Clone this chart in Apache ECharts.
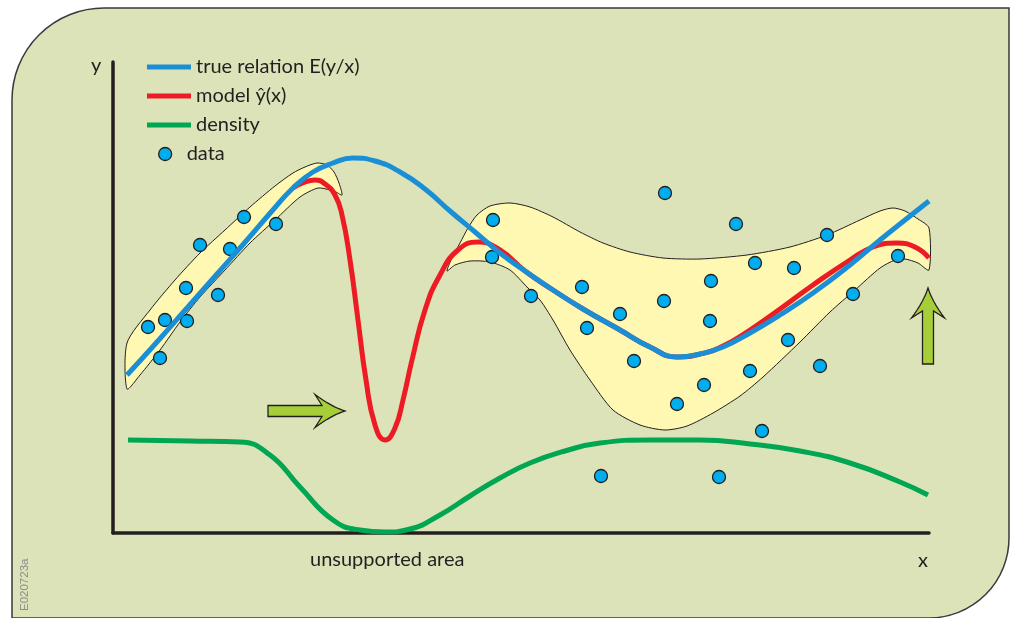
<!DOCTYPE html>
<html><head><meta charset="utf-8">
<script src="https://cdn.jsdelivr.net/npm/echarts@6/dist/echarts.min.js"></script>
<style>html,body{margin:0;padding:0;background:#fff}#c{width:1011px;height:618px}</style>
</head><body><div id="c"></div>
<script>
// Values in chart units: x from axis origin (0..816), y upward from x-axis (0..471)
const seriesNames = ['true relation E(y/x)', 'model \u0177(x)', 'density', 'data'];

const trueRelation = [[14,158],[44,191],[74,225],[104,259],[134,293],[159,322],[180,345],[200,361],[220,370],[240,375],[262,372],[287,361],[312,344],[337,322],[362,301],[387,280],[412,262],[440,243],[470,224],[507,203],[537,186],[564,176],[587,179],[610,186],[637,200],[667,218],[700,240],[737,268],[767,293],[792,313],[816,332]];

const modelFit = [[180,345],[192,351],[202,353],[212,349],[222,338],[229,318],[237,273],[245,213],[253,153],[262,108],[272,93],[282,105],[290,133],[299,173],[312,223],[327,258],[345,283],[365,291],[387,283],[412,262],[440,243],[470,224],[507,203],[537,186],[564,176],[587,179],[610,187],[637,203],[667,224],[700,248],[737,273],[760,286],[784,290],[802,286],[816,275]];

const density = [[15,93],[77,92],[127,91],[157,78],[187,46],[220,13],[247,3],[272,1],[297,4],[327,18],[357,37],[387,55],[417,70],[452,82],[487,90],[537,93],[587,93],[637,89],[687,82],[737,70],[787,51],[815,38]];

const observations = [[35,206],[52,213],[74,212],[47,175],[73,245],[105,238],[87,288],[117,284],[131,316],[163,309],
  [380,313],[379,276],[418,237],[469,246],[474,205],[507,219],[521,172],[552,340],[551,232],[564,129],[591,148],[598,252],[597,212],[623,309],[642,270],[681,265],[714,298],[785,277],[740,239],[675,193],[637,162],[707,167],[649,102],[488,57],[606,56]];

// confidence bands: outline points (upper edge then lower edge back)
const leftBandUpper = [[14,144],[14,190],[37,223],[62,253],[87,280],[112,303],[137,326],[162,347],[180,360],[192,366],[204,370],[214,368],[221,361],[226,350],[229,338]];
const leftBandLower = [[223,341],[217,343],[205,345],[187,336],[162,313],[137,290],[112,263],[87,236],[67,211],[47,183],[27,158]];

const rightBandUpper = [[334,262],[339,275],[347,290],[355,305],[364,318],[377,327],[397,330],[417,326],[440,316],[467,301],[490,290],[517,281],[550,275],[587,274],[634,278],[677,286],[714,298],[747,313],[767,322],[780,325],[792,322],[805,314],[816,305]];
const rightBandLower = [[816,263],[805,270],[792,274],[782,273],[767,265],[742,243],[717,221],[687,191],[650,156],[627,137],[600,120],[574,107],[552,103],[527,108],[500,123],[477,153],[457,183],[440,213],[427,233],[414,246],[397,263],[377,271],[357,272],[342,268]];

// arrows: [fromX, fromY, toX, toY]
const arrows = [[155,122,232,122],[815,169,815,245]];

const C_TEXT = '#231f20';
const chart = echarts.init(document.getElementById('c'), null, {renderer:'canvas'});

function bandSeries(upper, lower) {
  const pts = upper.concat(lower);
  return {
    type: 'custom', z: 1, clip: false, silent: true,
    data: pts,
    renderItem: function (params, api) {
      if (params.dataIndex !== 0) return null;
      const p = pts.map(d => api.coord(d));
      return {type:'polygon', shape:{points:p, smooth:0.25},
        style:{fill:'#fff8b3', stroke:'#231f20', lineWidth:1}};
    }
  };
}

function bez(p0, c, p1, n) {
  const out = [];
  for (let i = 1; i <= n; i++) {
    const t = i / n, a = (1-t)*(1-t), b = 2*(1-t)*t, e = t*t;
    out.push([a*p0[0]+b*c[0]+e*p1[0], a*p0[1]+b*c[1]+e*p1[1]]);
  }
  return out;
}

const arrowSeries = {
  type:'custom', z: 6, clip:false, silent:true,
  data: arrows,
  renderItem: function (params, api) {
    const s = api.coord([api.value(0), api.value(1)]);
    const e = api.coord([api.value(2), api.value(3)]);
    const dx = e[0]-s[0], dy = e[1]-s[1], L = Math.sqrt(dx*dx+dy*dy);
    const ux = dx/L, uy = dy/L, nx = -uy, ny = ux;
    const h = 5.5, hw = 16.5, hl = 30, j = 23;
    let loc = [[-L,-h],[-j,-h],[-hl,-hw]];
    loc = loc.concat(bez([-hl,-hw],[-13,-4],[0,0],8));
    loc = loc.concat(bez([0,0],[-13,4],[-hl,hw],8));
    loc.push([-j,h]); loc.push([-L,h]);
    const pts = loc.map(q => [e[0]+q[0]*ux+q[1]*nx, e[1]+q[0]*uy+q[1]*ny]);
    return {type:'polygon', shape:{points:pts}, style:{fill:'#a6ce39', stroke:'#231f20', lineWidth:1.3}};
  }
};

const option = {
  animation: false,
  backgroundColor: '#ffffff',
  graphic: [
    {type:'rect', z:-100, shape:{x:12, y:8, width:997, height:610, r:[92,0,80,0]},
     style:{fill:'#dde3b9', stroke:'#3a3a3a', lineWidth:1.5}},
    {type:'text', z:10, left:91, top:56, style:{text:'y', font:'20px Lato', fill:C_TEXT}},
    {type:'text', z:10, left:918, top:551, style:{text:'x', font:'20px Lato', fill:C_TEXT}},
    {type:'text', z:10, left:310, top:550, style:{text:'unsupported area', font:'20px Lato', fill:C_TEXT}},
    {type:'text', z:10, x:19, y:611, rotation:Math.PI/2, style:{text:'E020723a', font:'11.5px "Liberation Sans"', fill:'#8c8c8c'}}
  ],
  grid: {left:113, top:62, width:816, height:471, containLabel:false},
  xAxis: {type:'value', min:0, max:816, axisLine:{show:true, onZero:false, lineStyle:{color:C_TEXT, width:3.5}},
    axisTick:{show:false}, axisLabel:{show:false}, splitLine:{show:false}},
  yAxis: {type:'value', min:0, max:471, axisLine:{show:true, onZero:false, lineStyle:{color:C_TEXT, width:3.5}},
    axisTick:{show:false}, axisLabel:{show:false}, splitLine:{show:false}},
  legend: [
    {data: seriesNames.slice(0,3), orient:'vertical', left:142, top:52, itemWidth:44, itemHeight:5, itemGap:9,
     icon:'rect', selectedMode:false,
     textStyle:{fontFamily:'Lato', fontSize:20, color:C_TEXT, lineHeight:20}},
    {data: [{name: seriesNames[3], itemStyle:{borderColor:C_TEXT, borderWidth:1.3}}], orient:'vertical', left:153, top:139, itemWidth:33, itemHeight:13,
     icon:'circle', selectedMode:false,
     textStyle:{fontFamily:'Lato', fontSize:20, color:C_TEXT, lineHeight:20}}
  ],
  series: [
    bandSeries(leftBandUpper, leftBandLower),
    bandSeries(rightBandUpper, rightBandLower),
    {name: seriesNames[2], type:'line', z:3, data:density, smooth:0.5, showSymbol:false, symbol:'none', clip:false,
     lineStyle:{color:'#00a651', width:5}, itemStyle:{color:'#00a651'}},
    {name: seriesNames[3], type:'scatter', z:4, data:observations, symbolSize:13, clip:false,
     itemStyle:{color:'#00aeef', borderColor:C_TEXT, borderWidth:1.3, opacity:1}},
    {name: seriesNames[1], type:'line', z:5, data:modelFit, smooth:0.5, showSymbol:false, symbol:'none', clip:false,
     lineStyle:{color:'#ed1c24', width:5}, itemStyle:{color:'#ed1c24'}},
    {name: seriesNames[0], type:'line', z:5, data:trueRelation, smooth:0.5, showSymbol:false, symbol:'none', clip:false,
     lineStyle:{color:'#1a8fd6', width:5}, itemStyle:{color:'#1a8fd6'}},
    arrowSeries
  ]
};
chart.setOption(option);
</script>
</body></html>
